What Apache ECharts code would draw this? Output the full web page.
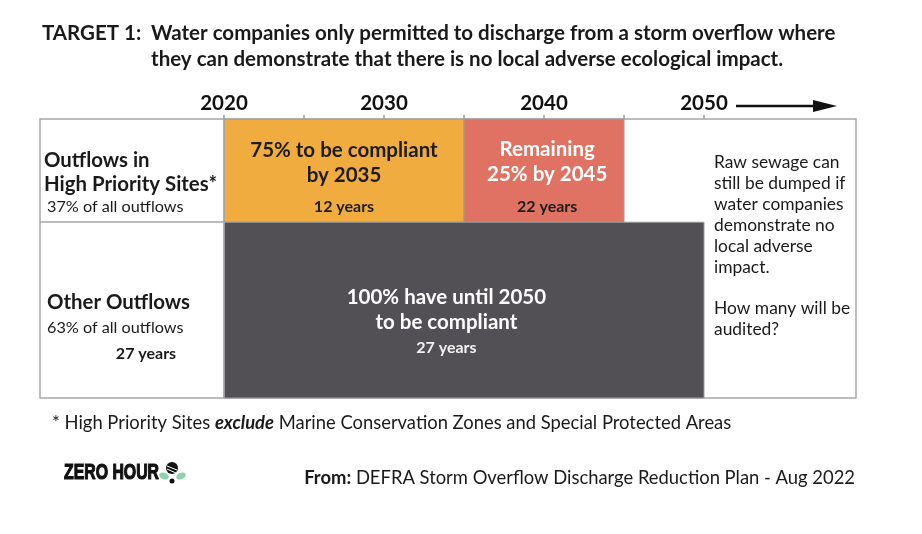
<!DOCTYPE html>
<html>
<head>
<meta charset="utf-8">
<script src="https://cdn.jsdelivr.net/npm/echarts@6/dist/echarts.min.js"></script>
<style>
  html, body { margin: 0; padding: 0; background: #fff; }
  #chart { width: 922px; height: 534px; }
</style>
</head>
<body>
<div id="chart"></div>
<script>
var myChart = echarts.init(document.getElementById('chart'));

// timeline years
var yearMin = 2008.5;
var yearMax = 2059.5;
var tickYears = [2020, 2025, 2030, 2035, 2040, 2045, 2050];
var labelYears = [2020, 2030, 2040, 2050];

// rows: share of all outflows (row height)
var rowNames = ['Outflows in\nHigh Priority Sites*', 'Other Outflows'];
var rowShares = [37, 63];
var rowNotes = ['37% of all outflows', '63% of all outflows'];

// compliance blocks
var blockRow = [0, 0, 1];
var blockStart = [2020, 2035, 2020];
var blockEnd = [2035, 2045, 2050];
var blockLabelAt = [2027.5, 2040.2, 2033.9];
var blockTitles = ['75% to be compliant\nby 2035', 'Remaining\n25% by 2045', '100% have until 2050\nto be compliant'];
var blockYears = ['12 years', '22 years', '27 years'];

// row edges from the shares
var rowEdges = [0];
rowShares.forEach(function (s, i) { rowEdges.push(rowEdges[i] + s); });

var blockData = blockStart.map(function (s, i) {
    return [s, blockEnd[i], rowEdges[blockRow[i]], rowEdges[blockRow[i] + 1], blockLabelAt[i]];
});

var blockColors = ['#F0AC3E', '#DF7262', '#525055'];
var titleColors = ['#1c1c1c', '#ffffff', '#ffffff'];
var yearColors = ['#1c1c1c', '#1c1c1c', '#f2f2f2'];
// text offsets from block centre (px)
var titleDy = [-8, -9, 0];
var yearsDy = [36, 36, 38];

var FONT = 'Lato, "Noto Sans", sans-serif';
var GRID = { left: 40, right: 66, top: 119, bottom: 136 };

function renderBlock(params, api) {
    var i = params.dataIndex;
    var p0 = api.coord([api.value(0), api.value(2)]);
    var p1 = api.coord([api.value(1), api.value(3)]);
    var cx = api.coord([api.value(4), 0])[0];
    var cy = (p0[1] + p1[1]) / 2;
    return {
        type: 'group',
        children: [
            {
                type: 'rect',
                shape: { x: p0[0], y: p0[1], width: p1[0] - p0[0], height: p1[1] - p0[1] },
                style: { fill: blockColors[i], stroke: '#9c9c9c', lineWidth: 1 }
            },
            {
                type: 'text',
                x: cx, y: cy + titleDy[i],
                style: {
                    text: blockTitles[i], fill: titleColors[i],
                    font: 'bold 20.5px ' + FONT, lineHeight: 25,
                    align: 'center', verticalAlign: 'middle'
                }
            },
            {
                type: 'text',
                x: cx, y: cy + yearsDy[i],
                style: {
                    text: blockYears[i], fill: yearColors[i],
                    font: 'bold 16px ' + FONT,
                    align: 'center', verticalAlign: 'middle'
                }
            }
        ]
    };
}

function txt(x, y, text, font, extra) {
    var style = { text: text, font: font + ' ' + FONT, fill: '#1a1a1a', verticalAlign: 'middle' };
    for (var k in extra) style[k] = extra[k];
    return { type: 'text', x: x, y: y, style: style, z: 10 };
}

option = {
    animation: false,
    backgroundColor: '#fff',
    grid: {
        left: GRID.left, right: GRID.right, top: GRID.top, bottom: GRID.bottom,
        show: true, borderColor: '#a6a6a6', borderWidth: 1.5, backgroundColor: '#fff'
    },
    xAxis: {
        type: 'value',
        position: 'top',
        min: yearMin,
        max: yearMax,
        axisLine: { show: false },
        splitLine: { show: false },
        axisTick: { show: true, customValues: tickYears, length: 4, lineStyle: { color: '#999', width: 1.5 } },
        axisLabel: {
            customValues: labelYears,
            formatter: function (v) { return String(v); },
            margin: 5,
            color: '#111',
            fontFamily: FONT,
            fontWeight: 'bold',
            fontSize: 20.5
        }
    },
    yAxis: {
        type: 'value',
        min: 0,
        max: 100,
        inverse: true,
        show: false
    },
    series: [
        {
            type: 'custom',
            renderItem: renderBlock,
            encode: { x: [0, 1], y: [2, 3] },
            data: blockData,
            z: 2,
            markLine: {
                silent: true,
                symbol: 'none',
                label: { show: false },
                lineStyle: { color: '#a6a6a6', width: 1.5, type: 'solid' },
                data: [
                    { xAxis: 2020 },
                    [{ coord: [yearMin, rowEdges[1]] }, { coord: [2020, rowEdges[1]] }]
                ]
            }
        }
    ],
    graphic: [
        // title
        txt(42, 33, 'TARGET 1:', 'bold 20.5px'),
        txt(151, 33, 'Water companies only permitted to discharge from a storm overflow where', 'bold 20.5px'),
        txt(151, 59, 'they can demonstrate that there is no local adverse ecological impact.', 'bold 20.5px'),
        // 2050 arrow
        { type: 'line', shape: { x1: 736, y1: 106, x2: 818, y2: 106 }, style: { stroke: '#111', lineWidth: 2.5 } },
        { type: 'polygon', shape: { points: [[813, 100], [837, 106], [813, 112]] }, style: { fill: '#111' } },
        // row labels
        txt(44, 172, rowNames[0], 'bold 20.4px', { lineHeight: 24 }),
        txt(47, 207, rowNotes[0], '16.2px'),
        txt(47, 302, rowNames[1], 'bold 20.4px'),
        txt(47, 328, rowNotes[1], '16.2px'),
        txt(146, 354, blockYears[2], 'bold 16px', { align: 'center' }),
        // note right
        txt(714, 246, 'Raw sewage can\nstill be dumped if\nwater companies\ndemonstrate no\nlocal adverse\nimpact.\n\nHow many will be\naudited?', '17.4px', { lineHeight: 20.9 }),
        // footnote
        {
            type: 'text', x: 52, y: 423, z: 10,
            style: {
                text: '* High Priority Sites {b|exclude} Marine Conservation Zones and Special Protected Areas',
                font: '18.4px ' + FONT, fill: '#1a1a1a', verticalAlign: 'middle',
                rich: { b: { fontFamily: FONT, fontSize: 18.4, fontWeight: 'bold', fontStyle: 'italic', fill: '#1a1a1a' } }
            }
        },
        {
            type: 'text', x: 855, y: 478, z: 10,
            style: {
                text: '{b|From:} DEFRA Storm Overflow Discharge Reduction Plan - Aug 2022',
                font: '18.4px ' + FONT, fill: '#1a1a1a', verticalAlign: 'middle', align: 'right',
                rich: { b: { fontFamily: FONT, fontSize: 18.4, fontWeight: 'bold', fill: '#1a1a1a' } }
            }
        },
        // logo
        {
            type: 'text', x: 64, y: 473, z: 10, scaleX: 0.72, originX: 0, originY: 0,
            style: {
                text: 'ZERO HOUR', font: 'bold 22px "Liberation Sans", Arial, sans-serif',
                fill: '#111', stroke: '#111', lineWidth: 1.2, verticalAlign: 'middle'
            }
        },
        { type: 'ellipse', shape: { cx: 164, cy: 476, rx: 5, ry: 3.2 }, rotation: -0.4, originX: 164, originY: 476, style: { fill: '#8fd1a8' } },
        { type: 'ellipse', shape: { cx: 181, cy: 476, rx: 5, ry: 3.2 }, rotation: 0.4, originX: 181, originY: 476, style: { fill: '#8fd1a8' } },
        { type: 'circle', shape: { cx: 172, cy: 468, r: 6 }, style: { fill: '#111' } },
        { type: 'line', shape: { x1: 167, y1: 466, x2: 177, y2: 470 }, style: { stroke: '#fff', lineWidth: 1 } },
        { type: 'line', shape: { x1: 167, y1: 469, x2: 176, y2: 473 }, style: { stroke: '#fff', lineWidth: 1 } },
        { type: 'circle', shape: { cx: 172, cy: 481, r: 2.5 }, style: { fill: '#111' } }
    ]
};

myChart.setOption(option);
</script>
</body>
</html>
